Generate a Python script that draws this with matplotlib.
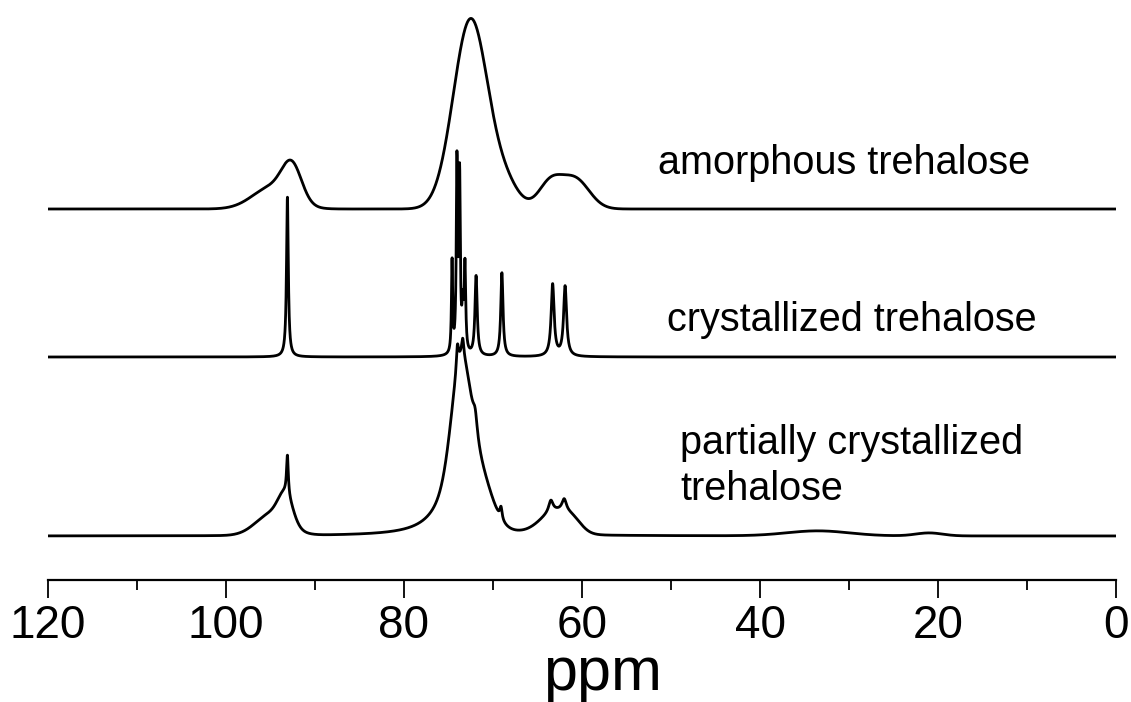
import numpy as np
import matplotlib
matplotlib.use('Agg')
import matplotlib.pyplot as plt

plt.rcParams['font.family'] = ['Liberation Sans', 'DejaVu Sans']

# peak tables: centre (ppm), height, width (ppm)
# amorphous trehalose: broad gaussian lines
amor_base = 371
amor_center = [92.6, 94.8, 72.5, 68.5, 63.6, 60.8]
amor_height = [35, 22, 190, 20, 25, 30]
amor_sigma = [1.1, 2.2, 1.95, 1.5, 1.3, 1.6]

# crystallized trehalose: sharp lorentzian lines
cryst_base = 223
cryst_center = [93.1, 74.6, 74.05, 73.75, 73.4, 73.15, 71.9, 69.0, 63.3, 61.9]
cryst_height = [160, 92, 188, 172, 40, 86, 80, 84, 72, 70]
cryst_gamma = [0.12, 0.08, 0.09, 0.09, 0.1, 0.1, 0.15, 0.15, 0.2, 0.2]

# partially crystallized trehalose: broad part + sharp part
part_base = 44
part_g_center = [93.3, 94.8, 73.5, 71.6, 63.0, 61.0, 33.5, 21.0]
part_g_height = [27, 22, 110, 50, 22, 8, 5, 3]
part_g_sigma = [0.8, 1.8, 1.0, 1.4, 1.7, 1.0, 3.5, 1.5]
part_l_center = [74.5, 93.1, 74.0, 73.4, 72.0, 69.1, 63.5, 62.0]
part_l_height = [60, 40, 25, 18, 20, 12, 12, 12]
part_l_gamma = [2.0, 0.12, 0.15, 0.15, 0.3, 0.15, 0.3, 0.3]

labels = ['amorphous trehalose', 'crystallized trehalose',
          'partially crystallized\ntrehalose']
label_x = [51.5, 50.4, 49.0]
label_y = [417, 260, 114]

ppm = np.linspace(120, 0, 6000)


def gauss(x, c, h, s):
    return h * np.exp(-(x - c) ** 2 / (2 * s ** 2))


def lorentz(x, c, h, g):
    return h / (1 + ((x - c) / g) ** 2)


amor = amor_base + sum(gauss(ppm, c, h, s) for c, h, s in zip(amor_center, amor_height, amor_sigma))
cryst = cryst_base + sum(lorentz(ppm, c, h, g) for c, h, g in zip(cryst_center, cryst_height, cryst_gamma))
part = part_base + sum(gauss(ppm, c, h, s) for c, h, s in zip(part_g_center, part_g_height, part_g_sigma))
part = part + sum(lorentz(ppm, c, h, g) for c, h, g in zip(part_l_center, part_l_height, part_l_gamma))

fig = plt.figure(figsize=(11.31, 7.02), dpi=100)
ax = fig.add_axes([48 / 1131, 122 / 702, 1068 / 1131, 580 / 702])

for y in (amor, cryst, part):
    ax.plot(ppm, y, color='black', lw=2.0)

for t, x, y in zip(labels, label_x, label_y):
    ax.text(x, y, t, fontsize=28.5, ha='left', va='center', linespacing=1.3)

ax.set_xlim(120, 0)
ax.set_ylim(0, 580)
ax.set_xticks(np.arange(120, -1, -20))
ax.set_xticks(np.arange(110, 0, -20), minor=True)
ax.tick_params(axis='x', which='major', direction='out', length=13, width=1.3,
               labelsize=33, pad=4)
ax.tick_params(axis='x', which='minor', direction='out', length=7, width=1.3)
ax.set_yticks([])
for s in ('left', 'right', 'top'):
    ax.spines[s].set_visible(False)
ax.spines['bottom'].set_linewidth(1.6)
ax.set_xlabel('ppm', fontsize=44)
ax.xaxis.set_label_coords(0.519, -0.114)

plt.savefig('out.png', dpi=100)
